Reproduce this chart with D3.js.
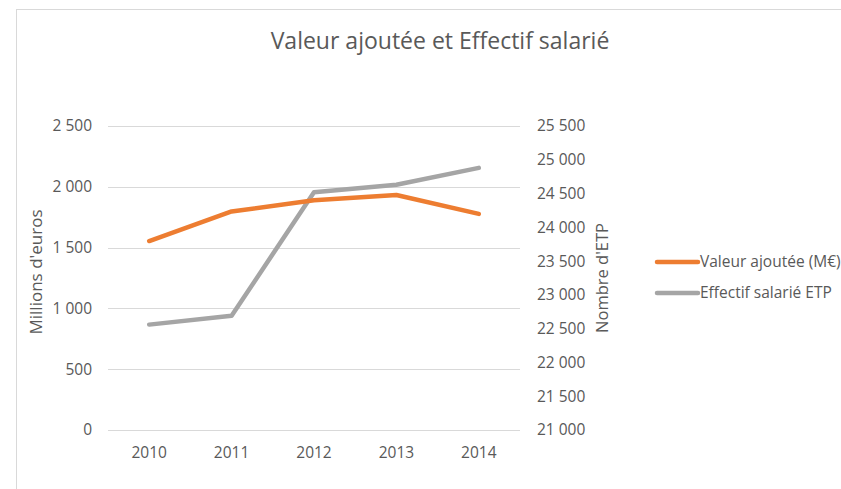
<!DOCTYPE html>
<html>
<head>
<meta charset="utf-8">
<script src="https://cdn.jsdelivr.net/npm/d3@7"></script>
<style>
  body { margin: 0; background: #fff; }
  text { font-family: "Open Sans", sans-serif; fill: #595959; }
</style>
</head>
<body>
<svg id="chart"></svg>
<script>
var width = 841,
    height = 489;

var years = ['2010', '2011', '2012', '2013', '2014'];
var valeurAjoutee = [1554, 1797, 1889, 1933, 1777];
var effectif = [22560, 22690, 24520, 24630, 24880];
var leftTicks = [0, 500, 1000, 1500, 2000, 2500];
var rightTicks = [21000, 21500, 22000, 22500, 23000, 23500, 24000, 24500, 25000, 25500];
var seriesNames = ['Valeur ajoutée (M€)', 'Effectif salarié ETP'];
var seriesColors = ['#ED7D31', '#A5A5A5'];

var svg = d3.select('#chart')
    .attr('width', width)
    .attr('height', height);

// chart border
svg.append('rect')
  .attr('x', 16.5).attr('y', 9.5)
  .attr('width', 900).attr('height', 600)
  .attr('fill', '#fff')
  .attr('stroke', '#d9d9d9');

var x = d3.scalePoint().domain(years).range([108, 520]).padding(0.5);
var yL = d3.scaleLinear().domain([0, 2500]).range([430, 126]);
var yR = d3.scaleLinear().domain([21000, 25500]).range([430, 126]);

// gridlines
svg.append('g')
  .selectAll('line')
  .data(leftTicks)
  .enter().append('line')
  .attr('x1', 108).attr('x2', 520)
  .attr('y1', d => Math.round(yL(d)) + 0.5)
  .attr('y2', d => Math.round(yL(d)) + 0.5)
  .attr('stroke', '#d9d9d9')
  .attr('stroke-width', 1);

var fmt = d => d3.format(',')(d).replace(/,/g, ' ');

// left ticks
svg.append('g')
  .selectAll('text')
  .data(leftTicks)
  .enter().append('text')
  .attr('x', 92)
  .attr('y', d => yL(d))
  .attr('dy', '0.35em')
  .attr('text-anchor', 'end')
  .style('font-size', '15.5px')
  .text(fmt);

// right ticks
svg.append('g')
  .selectAll('text')
  .data(rightTicks)
  .enter().append('text')
  .attr('x', 537)
  .attr('y', d => yR(d))
  .attr('dy', '0.35em')
  .style('font-size', '15.5px')
  .text(fmt);

// x labels
svg.append('g')
  .selectAll('text')
  .data(years)
  .enter().append('text')
  .attr('x', d => x(d))
  .attr('y', 453)
  .attr('dy', '0.35em')
  .attr('text-anchor', 'middle')
  .style('font-size', '15.5px')
  .text(d => d);

// axis titles
svg.append('text')
  .attr('transform', 'translate(36,272) rotate(-90)')
  .attr('text-anchor', 'middle')
  .attr('dy', '0.35em')
  .style('font-size', '17px')
  .text("Millions d'euros");

svg.append('text')
  .attr('transform', 'translate(602,278) rotate(-90)')
  .attr('text-anchor', 'middle')
  .attr('dy', '0.35em')
  .style('font-size', '16.5px')
  .text("Nombre d'ETP");

// title
svg.append('text')
  .attr('x', 440)
  .attr('y', 49)
  .attr('text-anchor', 'middle')
  .style('font-size', '23px')
  .text('Valeur ajoutée et Effectif salarié');

// lines
var lineL = d3.line().x((d, i) => x(years[i])).y(d => yL(d));
var lineR = d3.line().x((d, i) => x(years[i])).y(d => yR(d));

svg.append('path')
  .datum(effectif)
  .attr('d', lineR)
  .attr('fill', 'none')
  .attr('stroke', seriesColors[1])
  .attr('stroke-width', 4.5)
  .attr('stroke-linecap', 'round')
  .attr('stroke-linejoin', 'round');

svg.append('path')
  .datum(valeurAjoutee)
  .attr('d', lineL)
  .attr('fill', 'none')
  .attr('stroke', seriesColors[0])
  .attr('stroke-width', 4.5)
  .attr('stroke-linecap', 'round')
  .attr('stroke-linejoin', 'round');

// legend
var legend = svg.append('g')
  .selectAll('g')
  .data(seriesNames)
  .enter().append('g')
  .attr('transform', (d, i) => 'translate(657,' + (262 + i * 31) + ')');

legend.append('line')
  .attr('x1', 0).attr('x2', 41)
  .attr('stroke', (d, i) => seriesColors[i])
  .attr('stroke-width', 4.5)
  .attr('stroke-linecap', 'round');

legend.append('text')
  .attr('x', 43)
  .attr('dy', '0.35em')
  .style('font-size', '15.5px')
  .text(d => d);
</script>
</body>
</html>
